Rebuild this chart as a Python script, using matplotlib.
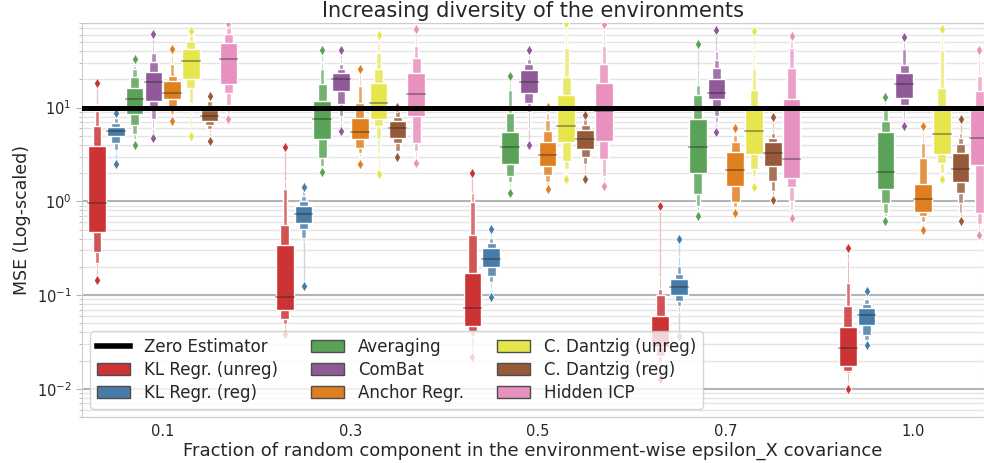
import matplotlib
matplotlib.use("Agg")
import matplotlib.pyplot as plt
import seaborn as sns
from matplotlib.patches import Patch
from matplotlib.lines import Line2D

fractions = ['0.1', '0.3', '0.5', '0.7', '1.0']
methods = ['KL Regr. (unreg)', 'KL Regr. (reg)', 'Averaging', 'ComBat',
           'Anchor Regr.', 'C. Dantzig (unreg)', 'C. Dantzig (reg)', 'Hidden ICP']

# letter values, rows = methods, cols = fractions
median = [[0.95, 0.096, 0.072, 0.04, 0.027],
          [5.7, 0.73, 0.242, 0.121, 0.061],
          [12.3, 7.5, 3.84, 3.84, 2.06],
          [18.8, 20.4, 18.8, 14.2, 17.7],
          [14.2, 5.55, 3.1, 2.15, 1.07],
          [31.7, 11.1, 6.4, 5.6, 5.2],
          [8.15, 6.0, 4.6, 3.3, 2.24],
          [33.3, 13.9, 9.2, 2.83, 4.8]]

hi1 = [[3.9, 0.344, 0.171, 0.06, 0.046],
       [6.27, 0.896, 0.315, 0.15, 0.0728],
       [16.3, 11.8, 5.55, 7.5, 5.5],
       [24.0, 23.6, 25.2, 20.0, 23.3],
       [19.3, 7.8, 4.3, 3.37, 1.54],
       [41.8, 18.5, 13.5, 9.6, 9.8],
       [9.4, 7.2, 5.75, 4.25, 3.26],
       [48.5, 23.6, 18.5, 12.4, 9.4]]
lo1 = [[0.47, 0.0698, 0.047, 0.028, 0.0177],
       [4.98, 0.59, 0.198, 0.1, 0.0477],
       [8.5, 4.67, 2.49, 2.03, 1.37],
       [11.8, 15.1, 14.5, 12.5, 12.8],
       [12.3, 4.6, 2.39, 1.46, 0.77],
       [20.4, 7.5, 4.3, 3.18, 3.18],
       [7.2, 4.8, 3.6, 2.39, 1.59],
       [17.7, 8.2, 4.4, 1.78, 2.44]]

hi2 = [[6.4, 0.562, 0.436, 0.1, 0.077],
       [6.9, 1.01, 0.357, 0.167, 0.081],
       [21.3, 17.7, 8.7, 13.5, 7.2],
       [30.7, 25.6, 29.0, 26.6, 28.4],
       [22.0, 11.3, 5.6, 4.3, 2.9],
       [51.3, 25.6, 21.3, 15.4, 16.3],
       [10.4, 8.0, 6.6, 4.8, 4.07],
       [60.4, 34.0, 29.0, 26.5, 15.0]]
lo2 = [[0.285, 0.0555, 0.0417, 0.0226, 0.0156],
       [4.17, 0.51, 0.16, 0.087, 0.0375],
       [6.5, 2.93, 1.87, 1.19, 0.97],
       [10.2, 10.9, 11.3, 10.2, 10.6],
       [10.2, 3.73, 1.9, 0.99, 0.7],
       [16.3, 6.4, 2.7, 2.2, 2.55],
       [6.5, 4.2, 3.0, 1.64, 1.22],
       [14.2, 4.2, 2.86, 1.43, 0.76]]

hi3 = [[9.3, 1.35, 0.99, 0.115, 0.135],
       [7.8, 1.15, 0.41, 0.206, 0.091],
       [26.0, 25.6, 15.4, 17.3, 9.4],
       [38.5, 29.0, 32.7, 32.0, 41.8],
       [29.0, 17.0, 7.4, 5.1, 4.2],
       [60.4, 38.5, 43.6, 26.0, 41.0],
       [11.8, 9.2, 7.5, 5.42, 4.8],
       [74.0, 45.4, 45.4, 43.4, 22.0]]
lo3 = [[0.22, 0.049, 0.037, 0.0188, 0.0148],
       [3.54, 0.41, 0.137, 0.076, 0.0328],
       [5.2, 2.39, 1.59, 0.9, 0.76],
       [7.52, 8.2, 8.98, 8.2, 9.5],
       [8.5, 3.3, 1.59, 0.88, 0.6],
       [11.3, 4.6, 2.2, 1.87, 2.0],
       [5.87, 3.45, 2.49, 1.3, 0.96],
       [10.8, 3.45, 1.87, 1.0, 0.58]]

hi4 = [[11.0, 1.65, 1.24, 0.155, 0.245],
       [8.15, 1.3, 0.466, 0.26, 0.098],
       [27.8, 30.7, 18.5, 26.0, 10.8],
       [47.3, 32.7, 37.0, 40.0, 50.0],
       [35.5, 22.7, 8.85, 5.6, 5.3],
       [64.0, 49.3, 63.0, 41.8, 53.5],
       [12.5, 9.8, 8.15, 5.87, 5.4],
       [78.0, 55.7, 63.0, 51.0, 32.7]]
lo4 = [[0.19, 0.0435, 0.028, 0.015, 0.0117],
       [3.31, 0.38, 0.116, 0.0665, 0.03],
       [4.6, 2.2, 1.41, 0.76, 0.7],
       [5.87, 6.9, 5.87, 6.9, 7.5],
       [7.8, 3.0, 1.46, 0.81, 0.55],
       [8.15, 3.3, 1.87, 1.64, 1.84],
       [5.4, 3.2, 2.1, 1.15, 0.76],
       [8.5, 2.93, 1.64, 0.81, 0.5]]

out_hi = [[18.5, 3.81, 2.0, 0.9, 0.316],
          [8.85, 1.41, 0.51, 0.395, 0.11],
          [33.0, 40.8, 22.0, 47.3, 13.0],
          [60.4, 40.8, 41.5, 67.0, 57.0],
          [42.5, 25.6, 10.2, 6.1, 6.4],
          [66.0, 59.0, 80.0, 65.5, 69.5],
          [13.3, 10.2, 8.3, 8.0, 7.5],
          [80.0, 68.5, 79.0, 57.7, 41.0]]
out_lo = [[0.145, 0.0384, 0.0217, 0.0128, 0.01],
          [2.49, 0.126, 0.095, 0.037, 0.029],
          [3.97, 2.06, 1.22, 0.69, 0.62],
          [4.79, 5.6, 3.97, 5.5, 6.3],
          [7.2, 2.49, 1.35, 0.76, 0.5],
          [5.0, 1.95, 1.72, 1.41, 1.75],
          [4.4, 3.0, 1.72, 1.04, 0.62],
          [7.5, 2.55, 1.46, 0.67, 0.44]]

zero_estimator = 10.0

palette = sns.color_palette('Set1', 8, desat=0.75)


def lighten(c, f):
    return tuple(v * (1 - f) + f for v in c)


plt.rcParams['text.color'] = '.15'
plt.rcParams['axes.labelcolor'] = '.15'
plt.rcParams['xtick.color'] = '.15'
plt.rcParams['ytick.color'] = '.15'

fig = plt.figure(figsize=(9.84, 4.63), dpi=100)
ax = fig.add_axes([82 / 984, 46 / 463, 902 / 984, 394 / 463])
ax.set_yscale('log')

w = 0.094
levels = [(lo4, hi4, w / 8, 0.45), (lo3, hi3, w / 4, 0.3),
          (lo2, hi2, w / 2, 0.15), (lo1, hi1, w, 0.0)]

for h in range(len(methods)):
    col = palette[h]
    for g in range(len(fractions)):
        x = g + (h - 3.5) * 0.1
        # tails up to the extreme points
        ax.plot([x, x], [hi4[h][g], out_hi[h][g]], color=lighten(col, 0.7), lw=1, zorder=2)
        ax.plot([x, x], [out_lo[h][g], lo4[h][g]], color=lighten(col, 0.7), lw=1, zorder=2)
        for lo, hi, bw, f in levels:
            ax.bar(x, hi[h][g] - lo[h][g], bottom=lo[h][g], width=bw,
                   color=lighten(col, f), edgecolor='white', linewidth=1, zorder=3)
        ax.plot([x - w / 2, x + w / 2], [median[h][g]] * 2, color='.15', alpha=.45, lw=1.2, zorder=4)
        ax.scatter([x, x], [out_lo[h][g], out_hi[h][g]], marker='d', s=30, color=col,
                   edgecolor='white', linewidth=0.6, zorder=4)

ax.axhline(zero_estimator, color='black', lw=3.6, zorder=5)

ax.set_xticks(range(len(fractions)))
ax.set_xticklabels(fractions, fontsize=10.5)
ax.tick_params(axis='x', length=0, pad=5)
ax.tick_params(axis='y', which='major', labelsize=10.5, length=4, color='.7')
ax.tick_params(axis='y', which='minor', length=2.5, color='.7')
ax.set_xlim(-0.43, 4.375)
ax.set_ylim(0.005, 80)
ax.set_axisbelow(True)
ax.yaxis.grid(True, which='major', color='#b4b4b4', lw=1.5)
ax.yaxis.grid(True, which='minor', color='#e4e4e4', lw=1)
for s in ax.spines.values():
    s.set_color('.8')

ax.set_title('Increasing diversity of the environments', fontsize=15, pad=4)
ax.set_xlabel('Fraction of random component in the environment-wise epsilon_X covariance',
              fontsize=13, labelpad=2)
ax.set_ylabel('MSE (Log-scaled)', fontsize=12.5)

handles = [Line2D([0], [0], color='black', lw=4)]
handles += [Patch(facecolor=palette[i], edgecolor='.3', lw=1) for i in range(len(methods))]
ax.legend(handles, ['Zero Estimator'] + methods, loc='lower left', ncol=3,
          fontsize=12, labelspacing=0.3, framealpha=0.8, edgecolor='.8')

fig.savefig('out.png', dpi=100)
